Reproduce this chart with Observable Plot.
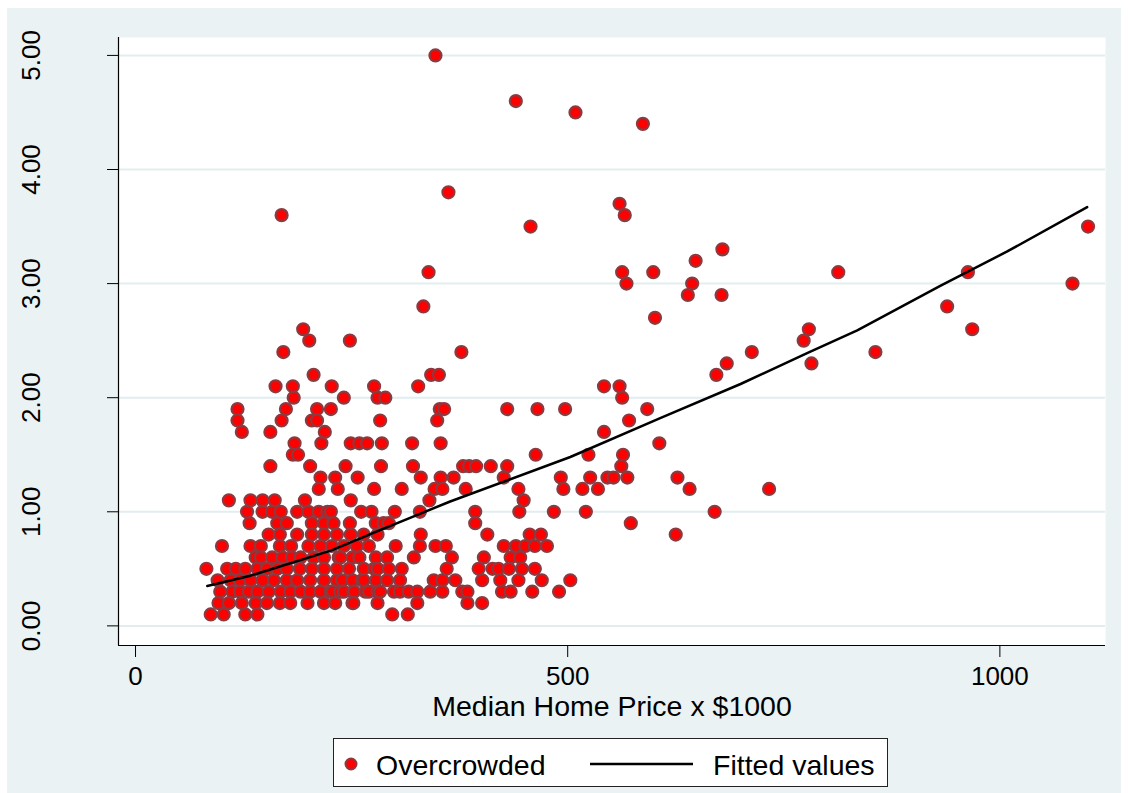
<!DOCTYPE html>
<html><head><meta charset="utf-8">
<script src="https://cdn.jsdelivr.net/npm/d3@7"></script>
<script src="https://cdn.jsdelivr.net/npm/@observablehq/plot@0.6"></script>
<style>
html,body{margin:0;padding:0;background:#fff;width:1128px;height:793px;overflow:hidden;}
#bg{position:absolute;left:7px;top:8px;width:1114px;height:785px;background:#EAF2F3;}
#chart{position:absolute;left:0;top:0;}
#legend{position:absolute;left:333px;top:738px;width:553px;height:47px;background:#fff;border:1px solid #222;}
#legend svg{display:block;font-family:"Liberation Sans",Arial,sans-serif;font-size:28.5px;}
</style></head><body>
<div id="bg"></div>
<div id="chart"></div>
<div id="legend"><svg width="553" height="47">
<circle cx="17" cy="25" r="5.5" fill="#FF0000" stroke="#8B3A40" stroke-width="2"></circle>
<text x="42" y="36" fill="#000">Overcrowded</text>
<line x1="256" x2="359" y1="25" y2="25" stroke="#000" stroke-width="2.5"></line>
<text x="379" y="36" fill="#000">Fitted values</text>
</svg></div>
<script>
// Overcrowded share (y) levels and the median home prices (x $1000) observed at each level
const crowdLevels = [5.0,4.6,4.5,4.4,3.8,3.7,3.6,3.5,3.3,3.2,3.1,3.0,2.9,2.8,2.7,2.6,2.5,2.4,2.3,2.2,2.1,2.0,1.9,1.8,1.7,1.6,1.5,1.4,1.3,1.2,1.1,1.0,0.9,0.8,0.7,0.6,0.5,0.4,0.3,0.2,0.1];
const pricesAtLevel = [
 [347],[440],[509],[587],[362],[560],[169,566],[457,1102],[679],[648],
 [339,563,599,813,963],[568,644,1084],[639,678],[333,939],[601],[194,779,968],[201,248,773],[171,377,713,856],[684,782],[206,342,351,672],
 [162,182,227,276,327,542,560],[183,241,280,289,563],[118,174,210,226,352,357,430,465,497,592],[118,169,204,210,283,349,571],[123,156,219,542],
 [184,215,249,259,268,285,320,353,606],[182,188,463,524,564],[156,202,243,284,321,379,386,394,411,430,562],
 [214,231,257,330,353,368,426,492,526,546,553,569,627],[212,234,276,308,346,355,382,443,495,517,535,641,733],
 [108,133,147,161,196,249,340,449],
 [129,147,158,168,187,200,212,222,226,261,273,300,329,393,444,484,521,670],
 [132,164,175,204,218,229,248,278,287,293,393,573],
 [154,167,187,204,218,233,249,264,280,330,407,456,469,625],
 [100,133,145,167,180,200,214,227,241,256,270,301,329,347,359,426,440,451,462,476],
 [139,145,158,170,181,191,206,218,235,237,251,259,278,291,322,366,403,434,445],
 [82,106,116,127,141,152,164,175,190,204,218,233,247,264,276,280,293,308,360,397,413,420,432,447,462],
 [95,110,121,133,147,160,175,187,202,218,233,239,251,262,264,278,291,306,345,355,370,401,422,443,470,503],
 [98,112,121,131,141,154,168,179,191,202,214,226,228,237,241,252,253,266,270,280,283,299,306,316,326,341,355,378,384,424,434,459,490],
 [96,108,123,139,152,167,179,199,218,231,251,252,280,326,384,401],
 [87,102,127,141,297,315]
];
// Fitted values
const fitPrice = [83,133,226,283,364,503,607,700,777,835,931,1008,1101];
const fitValue = [0.35,0.44,0.66,0.84,1.09,1.48,1.82,2.12,2.39,2.59,2.98,3.28,3.67];
const xTicks = [0,500,1000];
const yTicks = [0,1,2,3,4,5];
const xTitle = "Median Home Price x $1000";
const xDomain = [-19.7,1122.2];
const yDomain = [-0.172,5.157];

const points = [];
crowdLevels.forEach((lv,i)=>pricesAtLevel[i].forEach(p=>points.push({price:p,crowd:lv})));
const fit = fitPrice.map((p,i)=>({price:p,fit:fitValue[i]}));

const W=1128,H=730;
const chart = Plot.plot({
  width:W,height:H,
  marginLeft:118,marginRight:23,marginTop:37,marginBottom:H-645,
  x:{domain:xDomain},
  y:{domain:yDomain},
  style:{background:"transparent",fontFamily:"Liberation Sans, Arial, sans-serif",color:"#000"},
  marks:[
    Plot.frame({fill:"white",stroke:"none"}),
    Plot.ruleY(yTicks,{stroke:"#E3EDF0",strokeWidth:2}),
    Plot.ruleX([xDomain[0]],{stroke:"#000",strokeWidth:1.2}),
    Plot.ruleY([yDomain[0]],{stroke:"#000",strokeWidth:1.2}),
    Plot.axisX({ticks:xTicks,tickSize:12,tickPadding:9,fontSize:26,label:null,tickFormat:d=>String(d)}),
    Plot.axisY({ticks:yTicks,tickSize:11,tickFormat:()=>"",label:null}),
    Plot.text(yTicks,{y:d=>d,text:d=>d3.format(".2f")(d),frameAnchor:"left",dx:-87,rotate:-90,fontSize:26,textAnchor:"middle",lineAnchor:"middle"}),
    Plot.text([xTitle],{text:d=>d,frameAnchor:"bottom",dy:61,fontSize:28.5,lineAnchor:"middle"}),
    Plot.dot(points,{x:"price",y:"crowd",r:6,fill:"#FF0000",stroke:"#8B3A40",strokeWidth:2.2}),
    Plot.line(fit,{x:"price",y:"fit",stroke:"#000",strokeWidth:2.5})
  ]
});
document.getElementById("chart").appendChild(chart);
</script>
</body></html>
